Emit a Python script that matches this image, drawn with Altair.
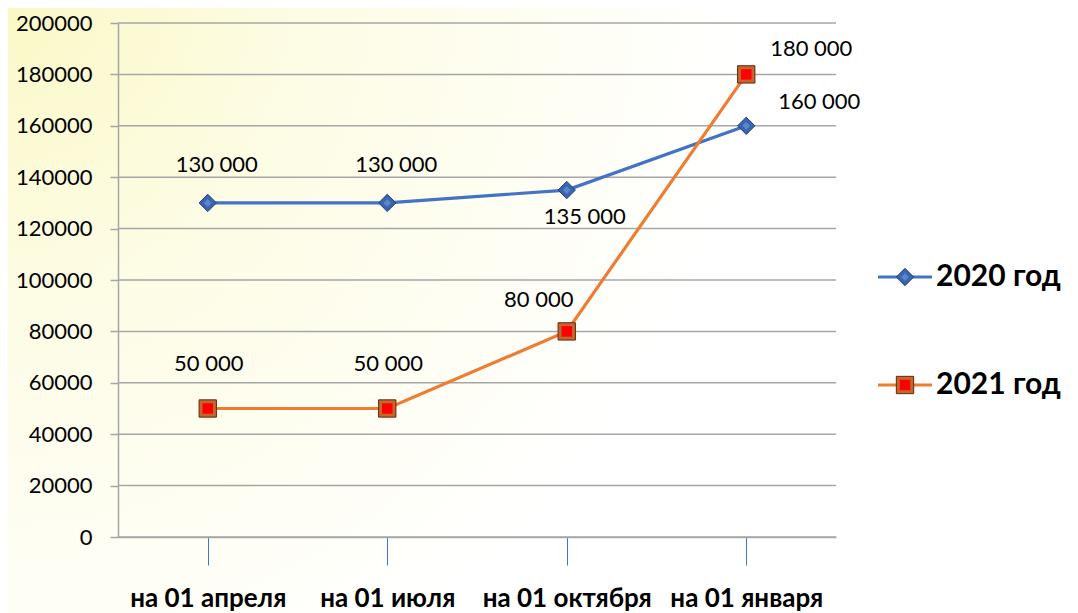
import altair as alt
import pandas as pd

categories = ["на 01 апреля", "на 01 июля", "на 01 октября", "на 01 января"]
series_names = ["2020 год", "2021 год"]
values_2020 = [130000, 130000, 135000, 160000]
values_2021 = [50000, 50000, 80000, 180000]
y_ticks = [0, 20000, 40000, 60000, 80000, 100000, 120000, 140000, 160000, 180000, 200000]

BLUE = "#4472C4"
ORANGE = "#ED7D31"
GRID = "#a6a6a6"
FONT = "Lato"

rows = []
for i, c in enumerate(categories):
    rows.append({"category": c, "idx": i, "series": series_names[0], "value": values_2020[i]})
    rows.append({"category": c, "idx": i, "series": series_names[1], "value": values_2021[i]})
df = pd.DataFrame(rows)
legend_df = pd.DataFrame({"series": series_names})
ticks_df = pd.DataFrame({"value": y_ticks})

W, H = 718, 514

x_enc = alt.X("category:N", sort=categories,
              scale=alt.Scale(type="point", padding=0.5),
              axis=alt.Axis(title=None, labelAngle=0, labelFont=FONT, labelFontSize=26,
                            labelFontWeight="bold", labelColor="black", labelPadding=20,
                            tickColor=BLUE, tickSize=28, tickWidth=1,
                            domainColor=GRID, domainWidth=1.5, grid=False, zindex=1))
y_enc = alt.Y("value:Q", scale=alt.Scale(domain=[0, 200000], nice=False, zero=True),
              axis=alt.Axis(title=None, values=y_ticks, format="d", labelFont=FONT,
                            labelFontSize=22, labelColor="black", labelPadding=18,
                            tickColor=GRID, tickSize=8, tickWidth=1.5,
                            domainColor=GRID, domainWidth=1.5,
                            grid=False, zindex=1))

base = alt.Chart(df)

bg = alt.Chart(legend_df).transform_filter(alt.datum.series == series_names[0]).mark_rect(
    color=alt.Gradient(gradient="radial",
                       stops=[alt.GradientStop(color="#fbf8c4", offset=0),
                              alt.GradientStop(color="#fdfce4", offset=0.4),
                              alt.GradientStop(color="#ffffff", offset=1)],
                       x1=0, y1=0.2, r1=0, x2=0, y2=0.2, r2=0.7)
).encode(x=alt.value(-126), x2=alt.value(960), y=alt.value(-31), y2=alt.value(620))

grid = alt.Chart(ticks_df).mark_rule(color=GRID, strokeWidth=1.5).encode(
    y=y_enc, x=alt.value(0), x2=alt.value(W))

lines = base.mark_line(strokeWidth=3.2).encode(
    x=x_enc, y=y_enc,
    color=alt.Color("series:N", scale=alt.Scale(domain=series_names, range=[BLUE, ORANGE]), legend=None),
    detail="series:N",
)

pts2020 = base.transform_filter(alt.datum.series == series_names[0]).mark_point(
    shape="diamond", filled=True, size=300, fill="#3a64ad", stroke="#203f78", strokeWidth=1, opacity=1
).encode(x=x_enc, y=y_enc)
pts2020_hi = base.transform_filter(alt.datum.series == series_names[0]).mark_point(
    shape="diamond", filled=True, size=60, fill="#5b86cf", opacity=1
).encode(x=x_enc, y=y_enc)

pts2021_outer = base.transform_filter(alt.datum.series == series_names[1]).mark_point(
    shape="square", filled=True, size=300, fill="#c8652c", stroke="#5a2a10", strokeWidth=1, opacity=1
).encode(x=x_enc, y=y_enc)
pts2021_inner = base.transform_filter(alt.datum.series == series_names[1]).mark_point(
    shape="square", filled=True, size=110, fill="#ff0000", opacity=1
).encode(x=x_enc, y=y_enc)


def labels(series, idxs, dx, dy):
    cond = "datum.series == '%s' && indexof(%s, datum.idx) >= 0" % (series, str(list(idxs)))
    return base.transform_filter(cond).transform_calculate(
        lab="replace(format(datum.value, ',d'), ',', ' ')"
    ).mark_text(font=FONT, fontSize=22, color="black", dx=dx, dy=dy, baseline="middle").encode(
        x=x_enc, y=y_enc, text="lab:N")


text_layers = [
    labels(series_names[0], [0, 1], 9, -38),
    labels(series_names[0], [2], 18, 27),
    labels(series_names[0], [3], 73, -24),
    labels(series_names[1], [0, 1], 1, -45),
    labels(series_names[1], [2], -28, -31),
    labels(series_names[1], [3], 65, -25),
]

# manual legend
leg_layers = []
for s, yy, col in [(series_names[0], 254, BLUE), (series_names[1], 362, ORANGE)]:
    ld = alt.Chart(legend_df).transform_filter(alt.datum.series == s)
    leg_layers.append(ld.mark_rule(color=col, strokeWidth=3.2).encode(
        x=alt.value(760), x2=alt.value(814), y=alt.value(yy)))
    if s == series_names[0]:
        leg_layers.append(ld.mark_point(shape="diamond", filled=True, size=300, fill="#3a64ad",
                                        stroke="#203f78", strokeWidth=1, opacity=1).encode(
            x=alt.value(787), y=alt.value(yy)))
        leg_layers.append(ld.mark_point(shape="diamond", filled=True, size=60, fill="#5b86cf",
                                        opacity=1).encode(x=alt.value(787), y=alt.value(yy)))
    else:
        leg_layers.append(ld.mark_point(shape="square", filled=True, size=300, fill="#c8652c",
                                        stroke="#5a2a10", strokeWidth=1, opacity=1).encode(
            x=alt.value(787), y=alt.value(yy)))
        leg_layers.append(ld.mark_point(shape="square", filled=True, size=110, fill="#ff0000",
                                        opacity=1).encode(x=alt.value(787), y=alt.value(yy)))
    leg_layers.append(ld.mark_text(font=FONT, fontSize=30, fontWeight="bold", color="black",
                                   align="left", baseline="middle").encode(
        x=alt.value(818), y=alt.value(yy), text="series:N"))

chart = alt.layer(bg, grid, lines, pts2020, pts2020_hi, pts2021_outer, pts2021_inner,
                  *text_layers, *leg_layers).properties(
    width=W, height=H,
    autosize=alt.AutoSizeParams(type="none"),
    padding={"left": 110, "top": 15, "right": 234, "bottom": 84},
    background="#ffffff",
).configure_view(stroke=None)

chart.save("out.html", embed_options={"renderer": "svg", "actions": False})
